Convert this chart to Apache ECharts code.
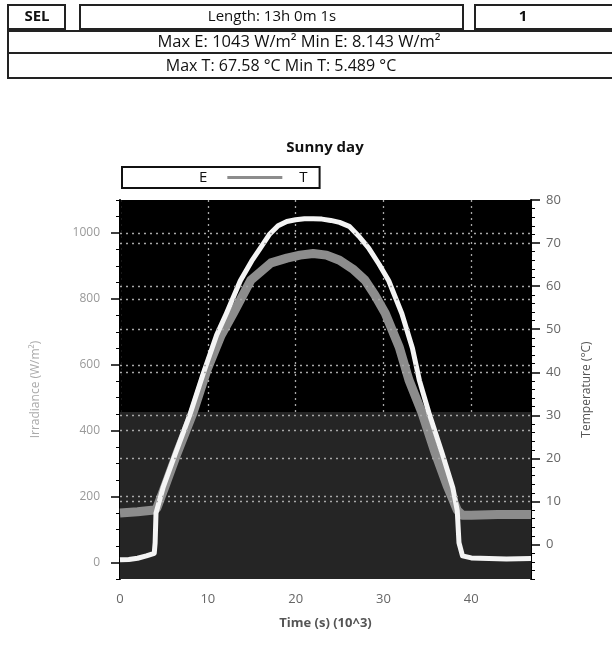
<!DOCTYPE html>
<html>
<head>
<meta charset="utf-8">
<script src="https://cdn.jsdelivr.net/npm/echarts@6/dist/echarts.min.js"></script>
<style>
html,body{margin:0;padding:0;background:#fff;}
#chart{width:612px;height:654px;}
</style>
</head>
<body>
<div id="chart"></div>
<script>
// ---- data ----
const timeE = [0, 1, 2, 3, 3.9, 4.0, 4.1, 4.9, 6.3, 8.0, 9.5, 11, 12.1, 13.7, 15, 16, 17, 18, 19, 20, 21, 22, 23, 24, 25, 26.1, 27.2, 28.3, 29.5, 30.6, 32.1, 33.3, 34.1, 35.2, 36.7, 37.9, 38.4, 38.6, 39.0, 40, 42, 44, 46.8];
const irradiance = [8.1, 9, 13, 20, 28, 60, 150, 227, 330, 452, 575, 690, 755, 855, 915, 955, 995, 1022, 1035, 1040, 1043, 1043, 1042, 1038, 1032, 1020, 990, 955, 905, 855, 755, 650, 552, 452, 330, 227, 158, 60, 20, 14, 12, 11, 12];
const timeT = [0, 2, 3.9, 4.2, 5.1, 6.5, 8.3, 9.9, 11.5, 12.9, 14.9, 17.2, 19, 20.5, 22, 23.5, 25, 26.5, 27.9, 29, 30.2, 31.8, 32.9, 34.4, 35.9, 37.3, 38.4, 39, 40, 43, 46.8];
const temperature = [7.3, 7.6, 8.0, 8.5, 13.4, 21.2, 30.5, 40.5, 48.5, 53.7, 61.4, 65.4, 66.5, 67.2, 67.58, 67.2, 66, 64, 61.4, 58, 53.7, 45.8, 38.2, 30.5, 21.2, 13.4, 8.0, 6.8, 6.8, 7.0, 7.0];
const xTicks = [0, 10, 20, 30, 40];
const eTicks = [0, 200, 400, 600, 800, 1000];
const eMinorTicks = [-50, 50, 100, 150, 250, 300, 350, 450, 500, 550, 650, 700, 750, 850, 900, 950, 1050, 1100];
const tTicks = [0, 10, 20, 30, 40, 50, 60, 70, 80];
const tMinorTicks = [-8, -6, -4, -2, 2, 4, 6, 8, 12, 14, 16, 18, 22, 24, 26, 28, 32, 34, 36, 38, 42, 44, 46, 48, 52, 54, 56, 58, 62, 64, 66, 68, 72, 74, 76, 78];
const eGrid = [200, 400, 600, 800, 1000];
const tGrid = [10, 20, 30, 40, 50, 60, 70];

const eData = timeE.map((t, i) => [t, irradiance[i]]);
const tData = timeT.map((t, i) => [t, temperature[i]]);

const FONT = 'Open Sans';
const chart = echarts.init(document.getElementById('chart'), null, {renderer: 'canvas'});

const dotted = {color: '#a8a8a8', width: 1.3, type: [2, 4]};

const option = {
  backgroundColor: '#fff',
  animation: false,
  textStyle: {fontFamily: FONT},
  title: {
    text: 'Sunny day',
    left: 320, top: 135, textAlign: 'center',
    textStyle: {fontSize: 15, fontWeight: 'bold', color: '#111', fontFamily: FONT}
  },
  legend: {
    left: 122, top: 167,
    itemGap: 20,
    padding: [3, 12, 3, 17],
    borderColor: '#111', borderWidth: 2,
    itemWidth: 55, itemHeight: 3,
    textStyle: {fontSize: 15, color: '#111', fontFamily: FONT},
    data: [
      {name: 'E', icon: 'none'},
      {name: 'T', icon: 'rect', itemStyle: {color: '#8c8c8c'}, textStyle: {padding: [0, 0, 0, 12]}}
    ]
  },
  grid: {
    left: 120, right: 81, top: 200, bottom: 75,
    show: true, backgroundColor: '#000', borderWidth: 0
  },
  xAxis: {
    type: 'value', min: 0, max: 46.8, interval: 10,
    name: 'Time (s) (10^3)', nameLocation: 'middle', nameGap: 38,
    nameTextStyle: {fontSize: 13, color: '#555', fontWeight: 'bold', fontFamily: FONT},
    axisLine: {show: true, lineStyle: {color: '#000', width: 2}},
    axisTick: {show: true, length: 7, lineStyle: {color: '#000', width: 1.5}},
    minorTick: {show: true, splitNumber: 5, length: 4, lineStyle: {color: '#000', width: 1}},
    axisLabel: {fontSize: 13, color: '#666', margin: 14, customValues: xTicks, fontFamily: FONT},
    splitLine: {show: true, lineStyle: dotted}
  },
  yAxis: [
    {
      type: 'value', position: 'left', min: -50, max: 1100,
      name: 'Irradiance (W/m²)', nameLocation: 'middle', nameGap: 78, nameRotate: 90,
      nameTextStyle: {fontSize: 12, color: '#aaa', fontFamily: FONT},
      axisLine: {show: true, lineStyle: {color: '#000', width: 2}},
      axisTick: {show: true, length: 9, customValues: eTicks, lineStyle: {color: '#000', width: 1.5}},
      axisLabel: {fontSize: 12, color: '#999', margin: 20, customValues: eTicks, fontFamily: FONT,
        formatter: v => String(v)},
      splitLine: {show: false}
    },
    {
      type: 'value', position: 'right', min: -8, max: 80,
      name: 'Temperature (°C)', nameLocation: 'middle', nameGap: 50, nameRotate: 90,
      nameTextStyle: {fontSize: 12, color: '#555', fontFamily: FONT},
      axisLine: {show: true, lineStyle: {color: '#000', width: 2}},
      axisTick: {show: true, length: 9, customValues: tTicks, lineStyle: {color: '#000', width: 1.5}},
      axisLabel: {fontSize: 13, color: '#666', margin: 15, customValues: tTicks, fontFamily: FONT},
      splitLine: {show: false}
    },
    {
      type: 'value', position: 'left', min: -50, max: 1100,
      axisLine: {show: false},
      axisTick: {show: true, length: 4, customValues: eMinorTicks, lineStyle: {color: '#000', width: 1}},
      axisLabel: {show: false},
      splitLine: {show: false}
    },
    {
      type: 'value', position: 'right', min: -8, max: 80,
      axisLine: {show: false},
      axisTick: {show: true, length: 4, customValues: tMinorTicks, lineStyle: {color: '#000', width: 1}},
      axisLabel: {show: false},
      splitLine: {show: false}
    }
  ],
  series: [
    {
      name: 'shade', type: 'line', yAxisIndex: 1, data: [], silent: true, z: 1,
      markArea: {
        silent: true,
        itemStyle: {color: '#252525'},
        data: [[{yAxis: -8}, {yAxis: 30.8}]]
      }
    },
    {
      name: 'gridlines', type: 'line', yAxisIndex: 0, data: [], silent: true, z: 2,
      markLine: {
        silent: true, symbol: 'none', label: {show: false},
        lineStyle: dotted,
        data: eGrid.map(v => ({yAxis: v}))
      }
    },
    {
      name: 'gridlinesT', type: 'line', yAxisIndex: 1, data: [], silent: true, z: 2,
      markLine: {
        silent: true, symbol: 'none', label: {show: false},
        lineStyle: dotted,
        data: tGrid.map(v => ({yAxis: v}))
      }
    },
    {
      name: 'T', type: 'line', yAxisIndex: 1, data: tData, z: 3,
      symbol: 'none', showSymbol: false, smooth: false,
      lineStyle: {color: '#8c8c8c', width: 9, join: 'round'},
      itemStyle: {color: '#8c8c8c'}
    },
    {
      name: 'E', type: 'line', yAxisIndex: 0, data: eData, z: 4,
      symbol: 'none', showSymbol: false, smooth: false,
      lineStyle: {color: '#f4f4f4', width: 5, join: 'round'},
      itemStyle: {color: '#f4f4f4'}
    }
  ],
  graphic: [
    {type: 'rect', shape: {x: 8, y: 5, width: 57, height: 24}, style: {fill: 'none', stroke: '#222', lineWidth: 2}},
    {type: 'text', x: 37, y: 17, style: {text: 'SEL', fontSize: 15, fontWeight: 'bold', fontFamily: FONT, fill: '#111', align: 'center', verticalAlign: 'middle'}},
    {type: 'rect', shape: {x: 80, y: 5, width: 383, height: 24}, style: {fill: 'none', stroke: '#222', lineWidth: 2}},
    {type: 'text', x: 272, y: 17, style: {text: 'Length: 13h 0m 1s', fontSize: 15, fontFamily: FONT, fill: '#111', align: 'center', verticalAlign: 'middle'}},
    {type: 'rect', shape: {x: 475, y: 5, width: 145, height: 24}, style: {fill: 'none', stroke: '#222', lineWidth: 2}},
    {type: 'text', x: 523, y: 17, style: {text: '1', fontSize: 15, fontWeight: 'bold', fontFamily: FONT, fill: '#111', align: 'center', verticalAlign: 'middle'}},
    {type: 'rect', shape: {x: 8, y: 31, width: 615, height: 22}, style: {fill: 'none', stroke: '#222', lineWidth: 2}},
    {type: 'text', x: 299, y: 42, style: {text: 'Max E: 1043 W/m² Min E: 8.143 W/m²', fontSize: 16.5, fontFamily: FONT, fill: '#111', align: 'center', verticalAlign: 'middle'}},
    {type: 'rect', shape: {x: 8, y: 53, width: 615, height: 25}, style: {fill: 'none', stroke: '#222', lineWidth: 2}},
    {type: 'text', x: 281, y: 66, style: {text: 'Max T: 67.58 °C Min T: 5.489 °C', fontSize: 16, fontFamily: FONT, fill: '#111', align: 'center', verticalAlign: 'middle'}}
  ]
};
chart.setOption(option);
</script>
</body>
</html>
